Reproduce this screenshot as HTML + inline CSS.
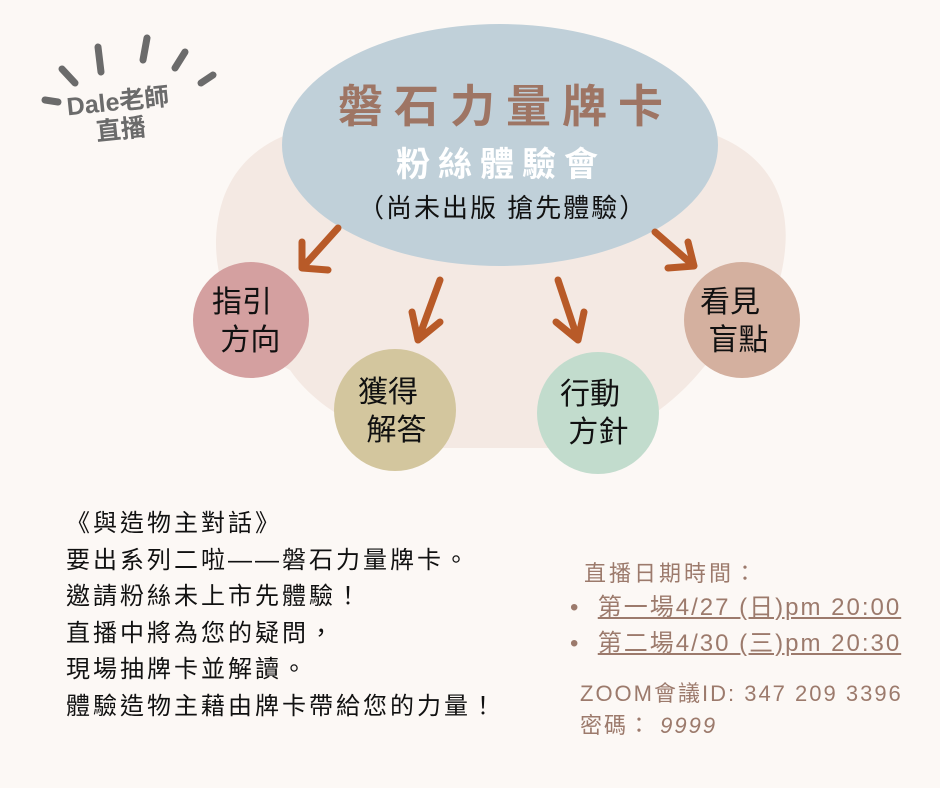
<!DOCTYPE html>
<html><head><meta charset="utf-8"><style>
body{margin:0;background:#fcf8f5;}
#c{position:relative;width:940px;height:788px;overflow:hidden;background:#fcf8f5;font-family:"Liberation Sans","Noto Sans CJK TC",sans-serif;}
.t{position:absolute;white-space:nowrap;}
</style></head><body><div id="c">
<svg width="940" height="788" style="position:absolute;left:0;top:0">
<path d="M300 130 C360 100 640 100 700 130 C770 150 790 200 785 250 C780 300 760 330 720 345 C690 390 640 440 560 448 L440 448 C360 440 310 400 290 370 C250 350 215 300 216 240 C218 180 250 145 300 130 Z" fill="#f4e9e3"/>
<ellipse cx="500" cy="145" rx="218" ry="121" fill="#c0d0d9"/>
<circle cx="251" cy="320" r="58" fill="#d4a0a0"/>
<circle cx="395" cy="410" r="61" fill="#d3c69e"/>
<circle cx="598" cy="413" r="61" fill="#c2dccd"/>
<circle cx="742" cy="320" r="58" fill="#d4b09f"/>
<g stroke="#b85a28" stroke-width="7" stroke-linecap="round" fill="none" stroke-linejoin="round">
<path d="M338 228 L302 268 M302 242 L302 268 L328 270"/>
<path d="M440 280 L418 340 M412 312 L418 340 L440 322"/>
<path d="M558 280 L578 340 M556 322 L578 340 L584 312"/>
<path d="M655 232 L694 266 M668 268 L694 266 L688 242"/>
</g>
<g stroke="#6b6b6b" stroke-width="7" stroke-linecap="round">
<line x1="98" y1="47" x2="101" y2="72"/><line x1="147" y1="38" x2="143" y2="60"/>
<line x1="185" y1="52" x2="175" y2="68"/><line x1="62" y1="69" x2="75" y2="83"/>
<line x1="213" y1="75" x2="201" y2="83"/><line x1="45" y1="100" x2="58" y2="102"/>
</g>
</svg>
<div class="t" style="left:68px;top:88px;font-size:25px;font-weight:bold;color:#6b6b6b;transform:rotate(-6deg);line-height:28px;text-align:center;">Dale老師<br>直播</div>
<div class="t" style="left:338px;top:70px;font-size:45px;font-weight:bold;color:#9e7564;letter-spacing:11px;">磐石力量牌卡</div>
<div class="t" style="left:396px;top:137px;font-size:34px;font-weight:bold;color:#fff;letter-spacing:8px;">粉絲體驗會</div>
<div class="t" style="left:358px;top:188px;font-size:26px;color:#111;letter-spacing:2px;">（尚未出版 搶先體驗）</div>
<div class="t" style="left:212px;top:284px;font-size:30px;line-height:38px;color:#111;">指引<br>&nbsp;方向</div>
<div class="t" style="left:358px;top:374px;font-size:30px;line-height:38px;color:#111;">獲得<br>&nbsp;解答</div>
<div class="t" style="left:560px;top:376px;font-size:30px;line-height:38px;color:#111;">行動<br>&nbsp;方針</div>
<div class="t" style="left:700px;top:284px;font-size:30px;line-height:38px;color:#111;">看見<br>&nbsp;盲點</div>
<div class="t" style="left:66px;top:506px;font-size:24px;line-height:36.5px;color:#111;letter-spacing:3px;">《與造物主對話》<br>要出系列二啦——磐石力量牌卡。<br>邀請粉絲未上市先體驗！<br>直播中將為您的疑問，<br>現場抽牌卡並解讀。<br>體驗造物主藉由牌卡帶給您的力量！</div>
<div class="t" style="left:584px;top:556px;font-size:22px;color:#9c7a6c;letter-spacing:3px;">直播日期時間：</div>
<div class="t" style="left:570px;top:590px;font-size:24px;color:#9c7a6c;line-height:36px;letter-spacing:2px;">•&nbsp; <u>第一場4/27 (日)pm 20:00</u><br>•&nbsp; <u>第二場4/30 (三)pm 20:30</u></div>
<div class="t" style="left:580px;top:678px;font-size:22px;color:#9c7a6c;line-height:32px;letter-spacing:2px;">ZOOM會議ID: 347 209 3396<br>密碼： <i>9999</i></div>
</div></body></html>
